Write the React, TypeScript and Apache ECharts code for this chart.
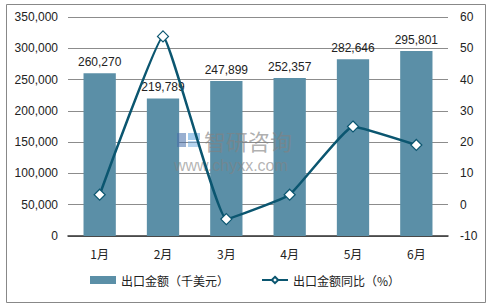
import React, { useEffect, useRef } from "react";
import * as echarts from "echarts";

const categories = ["1月", "2月", "3月", "4月", "5月", "6月"];
const exportValues = [260270, 219789, 247899, 252357, 282646, 295801];
const yoyValues = [3.2, 53.8, -4.6, 3.2, 25.0, 19.1];
const barName = "出口金额（千美元）";
const lineName = "出口金额同比（%）";

const FONT = "Liberation Sans, Arial, Noto Sans CJK SC, sans-serif";

export default function App() {
  const ref = useRef<HTMLDivElement>(null);
  useEffect(() => {
    document.body.style.margin = "0";
    const chart = echarts.init(ref.current!, undefined, { renderer: "svg" });
    const wm = { z: 5, silent: true };
    chart.setOption({
      animation: false,
      backgroundColor: "#ffffff",
      textStyle: { fontFamily: FONT },
      grid: { left: 68, right: 42, top: 17, bottom: 71, containLabel: false },
      legend: {
        bottom: 16,
        left: "center",
        itemWidth: 26,
        itemHeight: 8,
        itemGap: 32,
        textStyle: { fontSize: 12, color: "#222", fontFamily: "Noto Sans CJK SC, sans-serif" },
        data: [
          { name: barName, icon: "rect" },
          { name: lineName },
        ],
      },
      graphic: [
        {
          type: "rect",
          shape: { x: 6.5, y: 4.5, width: 479, height: 298 },
          style: { fill: "none", stroke: "#888", lineWidth: 1 },
          silent: true,
        },
        { type: "rect", ...wm, shape: { x: 177, y: 133, width: 9, height: 14 }, style: { fill: "rgba(70,110,170,0.55)" } },
        { type: "rect", ...wm, shape: { x: 188, y: 133, width: 12, height: 7 }, style: { fill: "rgba(90,160,220,0.55)" } },
        { type: "rect", ...wm, shape: { x: 188, y: 141, width: 12, height: 6 }, style: { fill: "rgba(90,160,220,0.45)" } },
        {
          type: "text",
          ...wm,
          x: 204,
          y: 129,
          style: { text: "智研咨询", font: "22px Noto Sans CJK SC, sans-serif", fill: "rgba(130,130,130,0.65)" },
        },
        {
          type: "text",
          ...wm,
          x: 174,
          y: 157,
          style: { text: "www.chyxx.com", font: "16px Liberation Sans, Arial, sans-serif", fill: "rgba(130,130,130,0.6)" },
        },
      ],
      xAxis: {
        type: "category",
        data: categories,
        axisLine: { lineStyle: { color: "#333", width: 1.5 } },
        axisTick: { show: false },
        axisLabel: { fontSize: 12, color: "#222", margin: 11, fontFamily: "Noto Sans CJK SC, sans-serif" },
      },
      yAxis: [
        {
          type: "value",
          min: 0,
          max: 350000,
          interval: 50000,
          axisLine: { show: false },
          axisTick: { show: false },
          splitLine: { lineStyle: { color: "#8c8c8c", width: 1 } },
          axisLabel: {
            fontSize: 12,
            color: "#222",
            margin: 10,
            formatter: (v: number) => v.toLocaleString("en-US"),
          },
        },
        {
          type: "value",
          min: -10,
          max: 60,
          interval: 10,
          axisLine: { show: false },
          axisTick: { show: false },
          splitLine: { show: false },
          axisLabel: { fontSize: 12, color: "#222", margin: 12 },
        },
      ],
      series: [
        {
          name: barName,
          type: "bar",
          data: exportValues,
          barWidth: "51%",
          itemStyle: { color: "#5b8fa7" },
          z: 2,
          label: {
            show: true,
            position: "top",
            distance: 5,
            fontSize: 12,
            color: "#222",
            formatter: (p: any) => Number(p.value).toLocaleString("en-US"),
          },
        },
        {
          name: lineName,
          type: "line",
          yAxisIndex: 1,
          data: yoyValues,
          smooth: 0.1,
          symbol: "diamond",
          symbolSize: 11,
          lineStyle: { color: "#0b5670", width: 2.5 },
          itemStyle: { color: "#ffffff", borderColor: "#0b5670", borderWidth: 1.2 },
          z: 10,
        },
      ],
    });
    return () => chart.dispose();
  }, []);
  return <div ref={ref} style={{ width: 490, height: 307 }} />;
}
